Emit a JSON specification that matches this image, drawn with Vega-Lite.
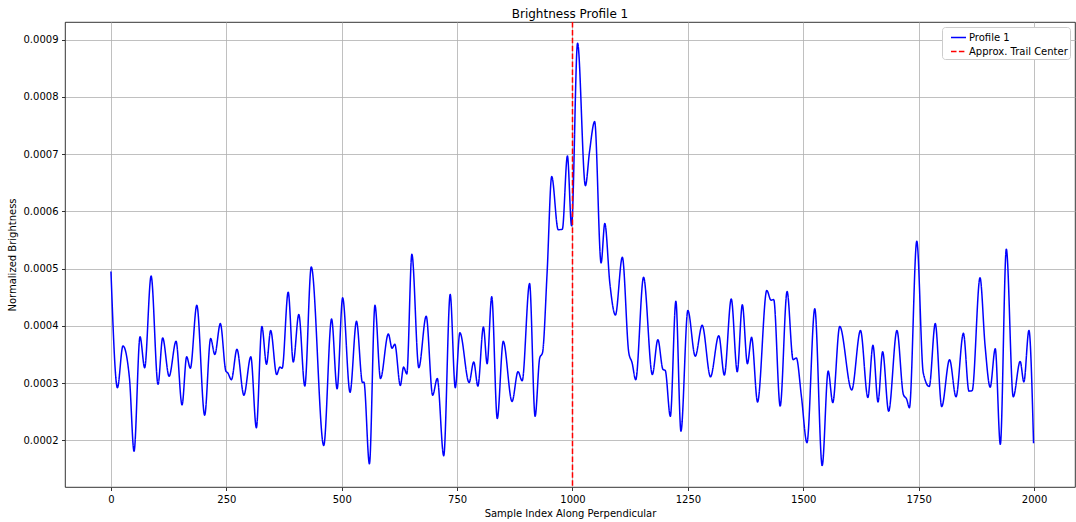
{
  "$schema": "https://vega.github.io/schema/vega-lite/v6.json",
  "autosize": {"type": "none"},
  "padding": {"left": 65, "top": 22, "right": 1, "bottom": 35},
  "width": 1010,
  "height": 465,
  "background": "white",
  "title": {"text": "Brightness Profile 1", "fontSize": 12, "fontWeight": "normal", "font": "DejaVu Sans", "color": "#000", "offset": 0, "anchor": "middle"},
  "config": {
    "font": "DejaVu Sans",
    "view": {"stroke": "#000", "strokeWidth": 0.8},
    "axis": {
      "domain": false,
      "grid": true,
      "gridColor": "#b0b0b0",
      "gridWidth": 0.8,
      "tickColor": "#000",
      "tickSize": 3.5,
      "tickWidth": 0.8,
      "labelFont": "DejaVu Sans",
      "labelFontSize": 10,
      "labelColor": "#000",
      "labelPadding": 3.5,
      "titleFont": "DejaVu Sans",
      "titleFontSize": 10,
      "titleFontWeight": "normal",
      "titleColor": "#000"
    },
    "legend": {
      "orient": "none",
      "padding": 2,
      "fillColor": "white",
      "strokeColor": "#cccccc",
      "cornerRadius": 3,
      "symbolType": "stroke",
      "symbolSize": 225,
      "symbolStrokeWidth": 1.5,
      "symbolOffset": 6,
      "labelFont": "DejaVu Sans",
      "labelFontSize": 10,
      "labelColor": "#000",
      "rowPadding": 0,
      "labelOffset": 2
    }
  },
  "layer": [
    {
      "data": {
        "values": [
          {"index": 0, "brightness": 0.000495},
          {"index": 14, "brightness": 0.000292},
          {"index": 26, "brightness": 0.000365},
          {"index": 40, "brightness": 0.000309},
          {"index": 50, "brightness": 0.000181},
          {"index": 63, "brightness": 0.000381},
          {"index": 73, "brightness": 0.000327},
          {"index": 87, "brightness": 0.000487},
          {"index": 102, "brightness": 0.000298},
          {"index": 112, "brightness": 0.000379},
          {"index": 126, "brightness": 0.000312},
          {"index": 141, "brightness": 0.000373},
          {"index": 154, "brightness": 0.000262},
          {"index": 164, "brightness": 0.000346},
          {"index": 172, "brightness": 0.000326},
          {"index": 186, "brightness": 0.000436},
          {"index": 203, "brightness": 0.000244},
          {"index": 216, "brightness": 0.000378},
          {"index": 225, "brightness": 0.00035},
          {"index": 237, "brightness": 0.000404},
          {"index": 249, "brightness": 0.000321},
          {"index": 253, "brightness": 0.000318},
          {"index": 261, "brightness": 0.000306},
          {"index": 273, "brightness": 0.000359},
          {"index": 288, "brightness": 0.000279},
          {"index": 303, "brightness": 0.000346},
          {"index": 315, "brightness": 0.000222},
          {"index": 327, "brightness": 0.000399},
          {"index": 337, "brightness": 0.000333},
          {"index": 346, "brightness": 0.000392},
          {"index": 359, "brightness": 0.000315},
          {"index": 366, "brightness": 0.000328},
          {"index": 371, "brightness": 0.000326},
          {"index": 384, "brightness": 0.000459},
          {"index": 395, "brightness": 0.000337},
          {"index": 407, "brightness": 0.00042},
          {"index": 420, "brightness": 0.000295},
          {"index": 434, "brightness": 0.000503},
          {"index": 461, "brightness": 0.000191},
          {"index": 478, "brightness": 0.000412},
          {"index": 490, "brightness": 0.00029},
          {"index": 502, "brightness": 0.000449},
          {"index": 518, "brightness": 0.000284},
          {"index": 532, "brightness": 0.000408},
          {"index": 545, "brightness": 0.000301},
          {"index": 548, "brightness": 0.000302},
          {"index": 560, "brightness": 0.000159},
          {"index": 572, "brightness": 0.000436},
          {"index": 584, "brightness": 0.000308},
          {"index": 601, "brightness": 0.000386},
          {"index": 609, "brightness": 0.000361},
          {"index": 615, "brightness": 0.000368},
          {"index": 627, "brightness": 0.000296},
          {"index": 634, "brightness": 0.000328},
          {"index": 641, "brightness": 0.000316},
          {"index": 652, "brightness": 0.000525},
          {"index": 667, "brightness": 0.000327},
          {"index": 683, "brightness": 0.000417},
          {"index": 697, "brightness": 0.000279},
          {"index": 707, "brightness": 0.000308},
          {"index": 721, "brightness": 0.000173},
          {"index": 735, "brightness": 0.000455},
          {"index": 746, "brightness": 0.000292},
          {"index": 756, "brightness": 0.000388},
          {"index": 776, "brightness": 0.000301},
          {"index": 786, "brightness": 0.000337},
          {"index": 795, "brightness": 0.000295},
          {"index": 807, "brightness": 0.000398},
          {"index": 815, "brightness": 0.000334},
          {"index": 825, "brightness": 0.000451},
          {"index": 837, "brightness": 0.000238},
          {"index": 850, "brightness": 0.000373},
          {"index": 869, "brightness": 0.000268},
          {"index": 882, "brightness": 0.00032},
          {"index": 891, "brightness": 0.000304},
          {"index": 907, "brightness": 0.000474},
          {"index": 919, "brightness": 0.000242},
          {"index": 929, "brightness": 0.000344},
          {"index": 935, "brightness": 0.000353},
          {"index": 945, "brightness": 0.000493},
          {"index": 955, "brightness": 0.000661},
          {"index": 969, "brightness": 0.000568},
          {"index": 978, "brightness": 0.000569},
          {"index": 989, "brightness": 0.000697},
          {"index": 998, "brightness": 0.000575},
          {"index": 1011, "brightness": 0.000894},
          {"index": 1028, "brightness": 0.000645},
          {"index": 1037, "brightness": 0.000705},
          {"index": 1048, "brightness": 0.000757},
          {"index": 1062, "brightness": 0.00051},
          {"index": 1070, "brightness": 0.000579},
          {"index": 1081, "brightness": 0.000474},
          {"index": 1093, "brightness": 0.000419},
          {"index": 1108, "brightness": 0.00052},
          {"index": 1122, "brightness": 0.000353},
          {"index": 1129, "brightness": 0.000336},
          {"index": 1137, "brightness": 0.000306},
          {"index": 1154, "brightness": 0.000485},
          {"index": 1173, "brightness": 0.000315},
          {"index": 1185, "brightness": 0.000376},
          {"index": 1196, "brightness": 0.000324},
          {"index": 1201, "brightness": 0.000322},
          {"index": 1212, "brightness": 0.000242},
          {"index": 1224, "brightness": 0.000443},
          {"index": 1235, "brightness": 0.000216},
          {"index": 1250, "brightness": 0.000427},
          {"index": 1266, "brightness": 0.000347},
          {"index": 1281, "brightness": 0.000401},
          {"index": 1299, "brightness": 0.000311},
          {"index": 1317, "brightness": 0.000383},
          {"index": 1329, "brightness": 0.000314},
          {"index": 1344, "brightness": 0.000447},
          {"index": 1357, "brightness": 0.00032},
          {"index": 1368, "brightness": 0.000437},
          {"index": 1379, "brightness": 0.000334},
          {"index": 1388, "brightness": 0.00038},
          {"index": 1401, "brightness": 0.000267},
          {"index": 1421, "brightness": 0.000462},
          {"index": 1430, "brightness": 0.000445},
          {"index": 1436, "brightness": 0.000446},
          {"index": 1450, "brightness": 0.00026},
          {"index": 1465, "brightness": 0.00046},
          {"index": 1478, "brightness": 0.000341},
          {"index": 1485, "brightness": 0.000344},
          {"index": 1496, "brightness": 0.000277},
          {"index": 1508, "brightness": 0.000196},
          {"index": 1525, "brightness": 0.00043},
          {"index": 1541, "brightness": 0.000156},
          {"index": 1554, "brightness": 0.000321},
          {"index": 1564, "brightness": 0.000266},
          {"index": 1579, "brightness": 0.000399},
          {"index": 1605, "brightness": 0.000288},
          {"index": 1624, "brightness": 0.000392},
          {"index": 1640, "brightness": 0.000275},
          {"index": 1651, "brightness": 0.000366},
          {"index": 1662, "brightness": 0.000267},
          {"index": 1672, "brightness": 0.000355},
          {"index": 1685, "brightness": 0.000251},
          {"index": 1703, "brightness": 0.000392},
          {"index": 1717, "brightness": 0.00028},
          {"index": 1724, "brightness": 0.000272},
          {"index": 1730, "brightness": 0.000257},
          {"index": 1746, "brightness": 0.000548},
          {"index": 1760, "brightness": 0.000318},
          {"index": 1773, "brightness": 0.000294},
          {"index": 1786, "brightness": 0.000404},
          {"index": 1800, "brightness": 0.000259},
          {"index": 1817, "brightness": 0.000341},
          {"index": 1831, "brightness": 0.000276},
          {"index": 1847, "brightness": 0.000387},
          {"index": 1859, "brightness": 0.000286},
          {"index": 1866, "brightness": 0.000287},
          {"index": 1883, "brightness": 0.000484},
          {"index": 1894, "brightness": 0.000365},
          {"index": 1905, "brightness": 0.000293},
          {"index": 1916, "brightness": 0.00036},
          {"index": 1927, "brightness": 0.000193},
          {"index": 1940, "brightness": 0.000534},
          {"index": 1955, "brightness": 0.000276},
          {"index": 1970, "brightness": 0.000338},
          {"index": 1978, "brightness": 0.000302},
          {"index": 1989, "brightness": 0.000392},
          {"index": 1999, "brightness": 0.000195}
        ]
      },
      "mark": {"type": "line", "interpolate": "monotone", "strokeWidth": 1.5},
      "encoding": {
        "x": {
          "field": "index",
          "type": "quantitative",
          "scale": {"domain": [-99.6, 2088.8], "nice": false, "zero": false},
          "axis": {"title": "Sample Index Along Perpendicular", "values": [0, 250, 500, 750, 1000, 1250, 1500, 1750, 2000], "format": "d", "titlePadding": 4}
        },
        "y": {
          "field": "brightness",
          "type": "quantitative",
          "scale": {"domain": [0.0001185, 0.000931], "nice": false, "zero": false},
          "axis": {"title": "Normalized Brightness", "values": [0.0002, 0.0003, 0.0004, 0.0005, 0.0006, 0.0007, 0.0008, 0.0009], "format": ".4f", "titlePadding": 6}
        },
        "color": {
          "datum": "Profile 1",
          "type": "nominal",
          "scale": {"domain": ["Profile 1", "Approx. Trail Center"], "range": ["#0000ff", "#ff0000"]},
          "legend": {"title": null, "orient": "none", "legendX": 877, "legendY": 5}
        },
        "strokeDash": {
          "datum": "Profile 1",
          "type": "nominal",
          "scale": {"domain": ["Profile 1", "Approx. Trail Center"], "range": [[1, 0], [5.5, 2.4]]},
          "legend": {"title": null, "orient": "none", "legendX": 877, "legendY": 5}
        }
      }
    },
    {
      "data": {"values": [{"center": 1000}]},
      "mark": {"type": "rule", "strokeWidth": 1.5},
      "encoding": {
        "x": {"field": "center", "type": "quantitative"},
        "color": {"datum": "Approx. Trail Center", "type": "nominal"},
        "strokeDash": {"datum": "Approx. Trail Center", "type": "nominal"}
      }
    }
  ]
}
